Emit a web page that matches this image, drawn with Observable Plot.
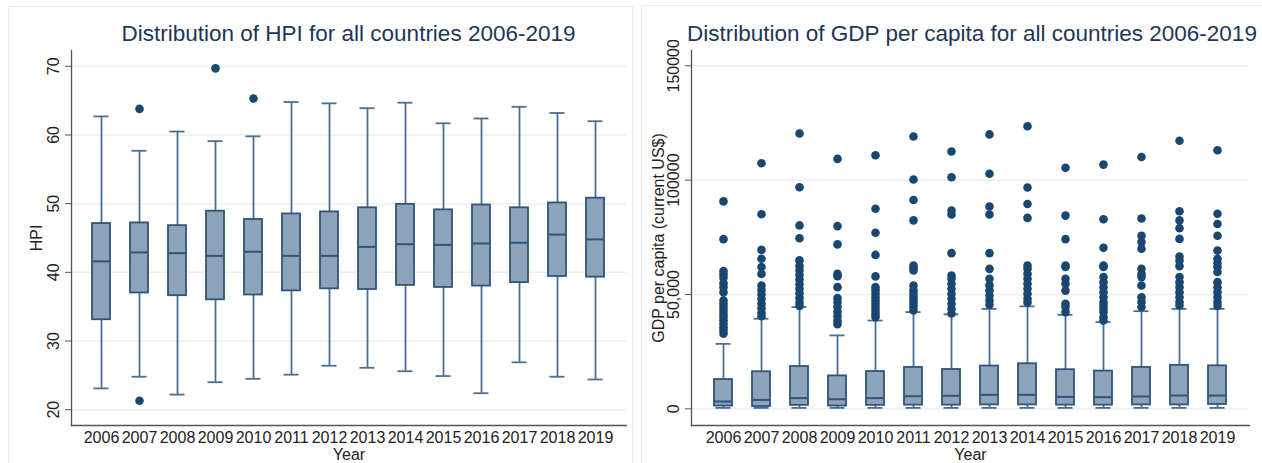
<!DOCTYPE html>
<html>
<head>
<meta charset="utf-8">
<script src="https://cdn.jsdelivr.net/npm/d3@7"></script>
<script src="https://cdn.jsdelivr.net/npm/@observablehq/plot@0.6"></script>
<style>
  html, body { margin: 0; padding: 0; background: #fff; }
  #root { position: relative; width: 1262px; height: 463px; overflow: hidden; font-family: "Liberation Sans", Arial, sans-serif; }
  .border { position: absolute; border: 1px solid #e4ecef; box-sizing: border-box; }
  .title { position: absolute; top: 21px; text-align: center; font-size: 22.5px; line-height: 26px; color: #1d3658; white-space: nowrap; }
  .panel { position: absolute; top: 40px; }
</style>
</head>
<body>
<div id="root">
  <div class="border" style="left:8px;top:6px;width:625px;height:470px;"></div>
  <div class="border" style="left:641px;top:5px;width:640px;height:470px;"></div>
  <div class="title" style="left:71px;width:555px;">Distribution of HPI for all countries 2006-2019</div>
  <div class="title" style="left:687px;width:558px;">Distribution of GDP per capita for all countries 2006-2019</div>
  <div class="panel" id="left" style="left:0px;"></div>
  <div class="panel" id="right" style="left:631px;"></div>
</div>
<script>
// ---------- data ----------
const years = ["2006","2007","2008","2009","2010","2011","2012","2013","2014","2015","2016","2017","2018","2019"];

// HPI box statistics
const hpiLo  = [23.1, 24.8, 22.2, 24.0, 24.5, 25.1, 26.4, 26.1, 25.6, 24.9, 22.4, 26.9, 24.8, 24.4];
const hpiQ1  = [33.1, 37.0, 36.6, 36.0, 36.7, 37.3, 37.6, 37.5, 38.1, 37.8, 38.0, 38.5, 39.4, 39.3];
const hpiMed = [41.6, 42.9, 42.8, 42.4, 43.0, 42.4, 42.4, 43.7, 44.1, 44.0, 44.2, 44.3, 45.5, 44.8];
const hpiQ3  = [47.1, 47.2, 46.8, 48.9, 47.7, 48.5, 48.8, 49.4, 49.9, 49.1, 49.8, 49.4, 50.1, 50.8];
const hpiHi  = [62.7, 57.7, 60.5, 59.1, 59.8, 64.8, 64.6, 63.9, 64.7, 61.7, 62.4, 64.1, 63.2, 62.0];
const hpiOutYears  = ["2007", "2007", "2009", "2010"];
const hpiOutValues = [63.8, 21.3, 69.7, 65.3];

// GDP per capita box statistics (current US$)
const gdpLo  = [400, 400, 400, 400, 400, 400, 400, 400, 400, 400, 400, 400, 400, 400];
const gdpQ1  = [1200, 1000, 1500, 1200, 1500, 1600, 1600, 1700, 1700, 1600, 1600, 1700, 1700, 1900];
const gdpMed = [3200, 3900, 4700, 4200, 4700, 5500, 5700, 6100, 6100, 5200, 5100, 5400, 5800, 5800];
const gdpQ3  = [12800, 16200, 18500, 14400, 16300, 18100, 17200, 18700, 19700, 17100, 16500, 18100, 19000, 18800];
const gdpHi  = [28400, 39400, 44500, 32100, 38600, 42300, 41300, 43700, 44800, 41100, 37900, 42700, 43700, 43700];
const gdpOut2006 = [90700, 74200, 60200, 58700, 57300, 54900, 53200, 51000, 47400, 45900, 44500, 43000, 41500, 40100, 38600, 37200, 35700, 34300, 32800];
const gdpOut2007 = [107400, 85100, 69500, 65600, 62000, 59000, 53900, 52000, 50000, 48000, 46000, 44000, 42000, 40500];
const gdpOut2008 = [120400, 96900, 80200, 74600, 64900, 62500, 60500, 58500, 56500, 54500, 52500, 50500, 48500, 46500, 45000];
const gdpOut2009 = [109300, 79900, 71900, 59000, 58000, 53200, 48400, 46500, 44500, 42500, 40500, 38500, 37000];
const gdpOut2010 = [110900, 87500, 77000, 67300, 57900, 53200, 51800, 50300, 48800, 47400, 45900, 44500, 43000, 41500, 40100];
const gdpOut2011 = [119100, 100300, 91300, 82400, 62700, 61500, 60500, 53900, 51800, 50300, 48800, 47400, 45900, 44500, 43000];
const gdpOut2012 = [112500, 101300, 86700, 85000, 68100, 58300, 56900, 54700, 52500, 50300, 48100, 45900, 43700, 41700];
const gdpOut2013 = [120000, 102800, 88500, 85000, 68100, 61200, 56900, 54000, 51800, 49500, 47400, 45500];
const gdpOut2014 = [123600, 96800, 89600, 83500, 62700, 61200, 59000, 56900, 54700, 52500, 50300, 48100, 46500];
const gdpOut2015 = [105400, 84500, 74200, 62700, 62000, 56900, 54700, 51700, 45900, 44500, 42300];
const gdpOut2016 = [106800, 82900, 70400, 62700, 62000, 57600, 55400, 53200, 51000, 48800, 46700, 45200, 43700, 42300, 40100, 38600];
const gdpOut2017 = [110100, 83200, 75700, 72900, 70000, 61200, 59000, 57600, 53900, 48800, 46700, 44500];
const gdpOut2018 = [117200, 86400, 82400, 79000, 74300, 66600, 64800, 62400, 57600, 55400, 53200, 51000, 48800, 46700, 45200];
const gdpOut2019 = [113100, 85300, 80800, 75700, 69200, 65600, 63800, 62000, 59800, 55400, 53200, 51000, 48800, 46700, 45000];

const hpiTicks = [20, 30, 40, 50, 60, 70];
const hpiTickLabels = ["20", "30", "40", "50", "60", "70"];
const gdpTicks = [0, 50000, 100000, 150000];
const gdpTickLabels = ["0", "50,000", "100000", "150000"];

// ---------- derived tables ----------
const hpiBoxes = years.map((y, i) => ({year: y, lo: hpiLo[i], q1: hpiQ1[i], med: hpiMed[i], q3: hpiQ3[i], hi: hpiHi[i]}));
const hpiOut = hpiOutYears.map((y, i) => ({year: y, value: hpiOutValues[i]}));
const gdpBoxes = years.map((y, i) => ({year: y, lo: gdpLo[i], q1: gdpQ1[i], med: gdpMed[i], q3: gdpQ3[i], hi: gdpHi[i]}));
const gdpOutLists = [gdpOut2006, gdpOut2007, gdpOut2008, gdpOut2009, gdpOut2010, gdpOut2011, gdpOut2012,
                     gdpOut2013, gdpOut2014, gdpOut2015, gdpOut2016, gdpOut2017, gdpOut2018, gdpOut2019];
const gdpOut = years.flatMap((y, i) => gdpOutLists[i].map(v => ({year: y, value: v})));

// ---------- styling ----------
const navy = "#1a476f";
const boxFill = "#8da3b9";
const boxStroke = "#2f557c";
const whisker = "#4b6f93";
const grid = "#e8f0f2";
const axisCol = "#555";

function boxPanel({boxes, outliers, domain, ticks, tickLabels, ylabel, marginLeft, marginRight, labelOffsetY}) {
  return Plot.plot({
    width: 631,
    height: 423,
    marginTop: 10,
    marginBottom: 38,
    marginLeft,
    marginRight,
    style: {fontFamily: "'Liberation Sans', Arial, sans-serif", fontSize: "16px", color: "#222", background: "transparent"},
    x: {type: "band", domain: years, paddingInner: 0.52, paddingOuter: 0.525, align: 0.5},
    y: {domain, ticks},
    marks: [
      Plot.gridY(ticks, {stroke: grid, strokeOpacity: 1, strokeWidth: 1.5}),
      Plot.axisY({ticks, tickSize: 6, tickRotate: -90, tickPadding: 7, stroke: axisCol,
                  tickFormat: (d) => tickLabels[ticks.indexOf(d)],
                  label: ylabel, labelAnchor: "center", labelOffset: labelOffsetY, labelArrow: "none"}),
      Plot.axisX({tickSize: 0, tickPadding: 6, fontSize: 16, label: "Year", labelAnchor: "center", labelOffset: 34.5, labelArrow: "none"}),
      Plot.frame({anchor: "left", stroke: axisCol, strokeWidth: 1.3}),
      Plot.frame({anchor: "bottom", stroke: axisCol, strokeWidth: 1.3}),
      Plot.ruleX(boxes, {x: "year", y1: "lo", y2: "q1", stroke: whisker, strokeWidth: 1.8}),
      Plot.ruleX(boxes, {x: "year", y1: "q3", y2: "hi", stroke: whisker, strokeWidth: 1.8}),
      Plot.tickY(boxes, {x: "year", y: "lo", stroke: whisker, strokeWidth: 1.8, insetLeft: 1.5, insetRight: 1.5}),
      Plot.tickY(boxes, {x: "year", y: "hi", stroke: whisker, strokeWidth: 1.8, insetLeft: 1.5, insetRight: 1.5}),
      Plot.barY(boxes, {x: "year", y1: "q1", y2: "q3", fill: boxFill, stroke: boxStroke, strokeWidth: 1.8}),
      Plot.tickY(boxes, {x: "year", y: "med", stroke: boxStroke, strokeWidth: 2}),
      Plot.dot(outliers, {x: "year", y: "value", r: 4.3, fill: navy, stroke: "none"})
    ]
  });
}

document.getElementById("left").appendChild(boxPanel({
  boxes: hpiBoxes, outliers: hpiOut, domain: [17.7, 72.3], ticks: hpiTicks, tickLabels: hpiTickLabels,
  ylabel: "HPI", marginLeft: 71, marginRight: 5, labelOffsetY: 41
}));
document.getElementById("right").appendChild(boxPanel({
  boxes: gdpBoxes, outliers: gdpOut, domain: [-7300, 156700], ticks: gdpTicks, tickLabels: gdpTickLabels,
  ylabel: "GDP per capita (current US$)", marginLeft: 60, marginRight: 13, labelOffsetY: 39
}));
</script>
</body>
</html>
